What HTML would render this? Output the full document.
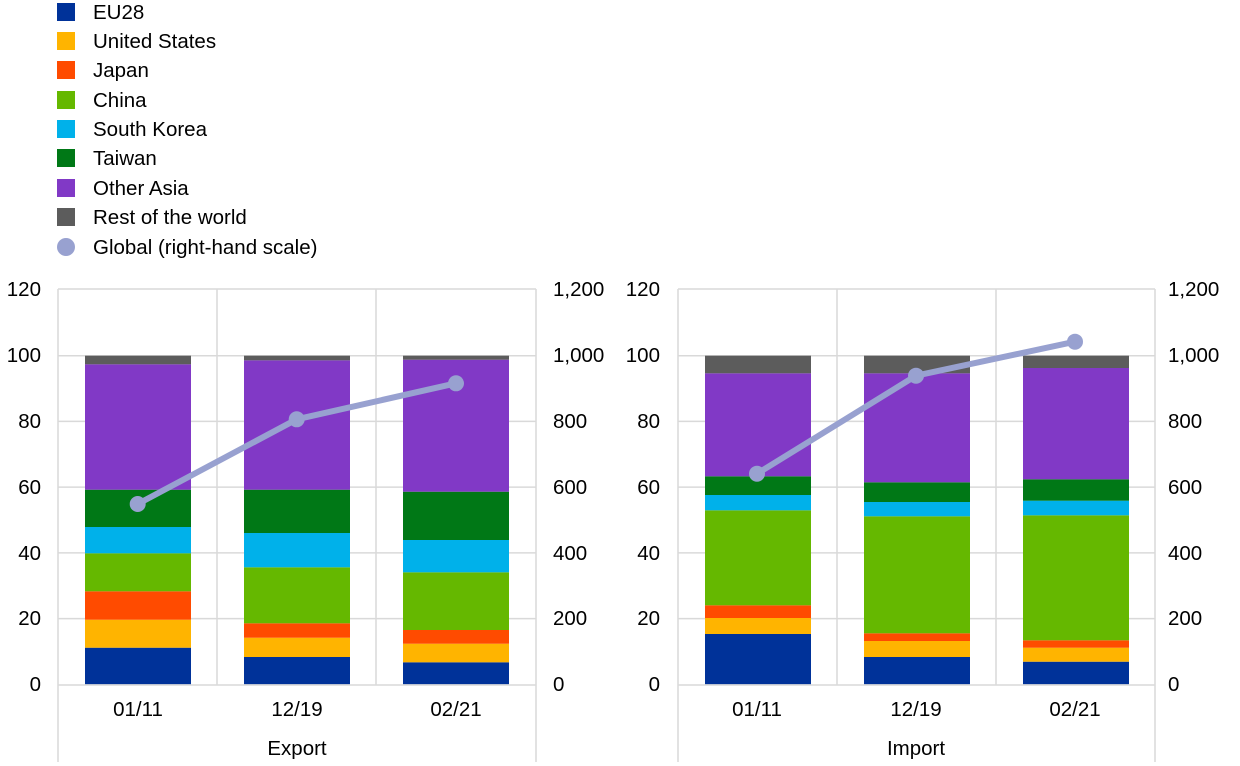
<!DOCTYPE html>
<html><head><meta charset="utf-8"><style>
html,body{margin:0;padding:0;background:#fff;}
svg{display:block;font-family:"Liberation Sans",Arial,sans-serif;}
</style></head><body>
<svg width="1240" height="766" viewBox="0 0 1240 766" xmlns="http://www.w3.org/2000/svg">
<g font-size="20.5" fill="#000">
<rect x="57" y="3" width="18" height="18" fill="#003299"/><text x="93" y="19">EU28</text>
<rect x="57" y="32" width="18" height="18" fill="#FFB400"/><text x="93" y="48">United States</text>
<rect x="57" y="61" width="18" height="18" fill="#FF4B00"/><text x="93" y="77">Japan</text>
<rect x="57" y="91" width="18" height="18" fill="#65B800"/><text x="93" y="107">China</text>
<rect x="57" y="120" width="18" height="18" fill="#00B1EA"/><text x="93" y="136">South Korea</text>
<rect x="57" y="149" width="18" height="18" fill="#007816"/><text x="93" y="165">Taiwan</text>
<rect x="57" y="179" width="18" height="18" fill="#8139C6"/><text x="93" y="195">Other Asia</text>
<rect x="57" y="208" width="18" height="18" fill="#5C5C5C"/><text x="93" y="224">Rest of the world</text>
<circle cx="66" cy="247" r="9" fill="#98A1D0"/><text x="93" y="254">Global (right-hand scale)</text>
</g>

<!-- LEFT CHART -->
<g stroke="#d9d9d9" stroke-width="1.5" fill="none">
<line x1="58" y1="289" x2="536" y2="289"/>
<line x1="58" y1="355.7" x2="536" y2="355.7"/>
<line x1="58" y1="421.4" x2="536" y2="421.4"/>
<line x1="58" y1="487.1" x2="536" y2="487.1"/>
<line x1="58" y1="552.9" x2="536" y2="552.9"/>
<line x1="58" y1="618.6" x2="536" y2="618.6"/>
<line x1="217" y1="289" x2="217" y2="685"/>
<line x1="376" y1="289" x2="376" y2="685"/>
<line x1="58" y1="289" x2="58" y2="762"/>
<line x1="536" y1="289" x2="536" y2="762"/>
</g>
<g>
<rect x="85" y="647.7" width="106" height="36.6" fill="#003299"/>
<rect x="85" y="619.7" width="106" height="28" fill="#FFB400"/>
<rect x="85" y="591.3" width="106" height="28.4" fill="#FF4B00"/>
<rect x="85" y="553.3" width="106" height="38" fill="#65B800"/>
<rect x="85" y="527" width="106" height="26.3" fill="#00B1EA"/>
<rect x="85" y="489.7" width="106" height="37.3" fill="#007816"/>
<rect x="85" y="364.3" width="106" height="125.4" fill="#8139C6"/>
<rect x="85" y="355.7" width="106" height="8.6" fill="#5C5C5C"/>

<rect x="244" y="657" width="106" height="27.3" fill="#003299"/>
<rect x="244" y="637.7" width="106" height="19.3" fill="#FFB400"/>
<rect x="244" y="623.3" width="106" height="14.4" fill="#FF4B00"/>
<rect x="244" y="567.3" width="106" height="56" fill="#65B800"/>
<rect x="244" y="533" width="106" height="34.3" fill="#00B1EA"/>
<rect x="244" y="489.7" width="106" height="43.3" fill="#007816"/>
<rect x="244" y="360.3" width="106" height="129.4" fill="#8139C6"/>
<rect x="244" y="355.7" width="106" height="4.6" fill="#5C5C5C"/>

<rect x="403" y="662.3" width="106" height="22" fill="#003299"/>
<rect x="403" y="643.7" width="106" height="18.6" fill="#FFB400"/>
<rect x="403" y="630" width="106" height="13.7" fill="#FF4B00"/>
<rect x="403" y="572.3" width="106" height="57.7" fill="#65B800"/>
<rect x="403" y="540" width="106" height="32.3" fill="#00B1EA"/>
<rect x="403" y="491.7" width="106" height="48.3" fill="#007816"/>
<rect x="403" y="359.7" width="106" height="132" fill="#8139C6"/>
<rect x="403" y="355.7" width="106" height="4" fill="#5C5C5C"/>
</g>
<line x1="58" y1="685" x2="536" y2="685" stroke="#d9d9d9" stroke-width="1.5"/>
<polyline points="137.7,504 296.7,419.3 456,383.3" fill="none" stroke="#98A1D0" stroke-width="6" stroke-linejoin="round"/>
<g fill="#98A1D0"><circle cx="137.7" cy="504" r="8"/><circle cx="296.7" cy="419.3" r="8"/><circle cx="456" cy="383.3" r="8"/></g>
<g font-size="20.5" fill="#000" text-anchor="end">
<text x="41" y="296">120</text><text x="41" y="362">100</text><text x="41" y="428">80</text>
<text x="41" y="494">60</text><text x="41" y="560">40</text><text x="41" y="625">20</text><text x="41" y="691">0</text>
</g>
<g font-size="20.5" fill="#000">
<text x="553" y="296">1,200</text><text x="553" y="362">1,000</text><text x="553" y="428">800</text>
<text x="553" y="494">600</text><text x="553" y="560">400</text><text x="553" y="625">200</text><text x="553" y="691">0</text>
</g>
<g font-size="20.5" fill="#000" text-anchor="middle">
<text x="138" y="716">01/11</text><text x="297" y="716">12/19</text><text x="456" y="716">02/21</text>
<text x="297" y="755">Export</text>
</g>

<!-- RIGHT CHART -->
<g stroke="#d9d9d9" stroke-width="1.5" fill="none">
<line x1="678" y1="289" x2="1155" y2="289"/>
<line x1="678" y1="355.7" x2="1155" y2="355.7"/>
<line x1="678" y1="421.4" x2="1155" y2="421.4"/>
<line x1="678" y1="487.1" x2="1155" y2="487.1"/>
<line x1="678" y1="552.9" x2="1155" y2="552.9"/>
<line x1="678" y1="618.6" x2="1155" y2="618.6"/>
<line x1="837" y1="289" x2="837" y2="685"/>
<line x1="996" y1="289" x2="996" y2="685"/>
<line x1="678" y1="289" x2="678" y2="762"/>
<line x1="1155" y1="289" x2="1155" y2="762"/>
</g>
<g>
<rect x="705" y="634" width="106" height="50.3" fill="#003299"/>
<rect x="705" y="618" width="106" height="16" fill="#FFB400"/>
<rect x="705" y="605.3" width="106" height="12.7" fill="#FF4B00"/>
<rect x="705" y="510.3" width="106" height="95" fill="#65B800"/>
<rect x="705" y="495" width="106" height="15.3" fill="#00B1EA"/>
<rect x="705" y="476.3" width="106" height="18.7" fill="#007816"/>
<rect x="705" y="373.3" width="106" height="103" fill="#8139C6"/>
<rect x="705" y="355.7" width="106" height="17.6" fill="#5C5C5C"/>

<rect x="864" y="657" width="106" height="27.3" fill="#003299"/>
<rect x="864" y="641" width="106" height="16" fill="#FFB400"/>
<rect x="864" y="633.3" width="106" height="7.7" fill="#FF4B00"/>
<rect x="864" y="516.3" width="106" height="117" fill="#65B800"/>
<rect x="864" y="502" width="106" height="14.3" fill="#00B1EA"/>
<rect x="864" y="482.3" width="106" height="19.7" fill="#007816"/>
<rect x="864" y="373.3" width="106" height="109" fill="#8139C6"/>
<rect x="864" y="355.7" width="106" height="17.6" fill="#5C5C5C"/>

<rect x="1023" y="661.7" width="106" height="22.6" fill="#003299"/>
<rect x="1023" y="647.7" width="106" height="14" fill="#FFB400"/>
<rect x="1023" y="640.3" width="106" height="7.4" fill="#FF4B00"/>
<rect x="1023" y="515.3" width="106" height="125" fill="#65B800"/>
<rect x="1023" y="500.7" width="106" height="14.6" fill="#00B1EA"/>
<rect x="1023" y="479.3" width="106" height="21.4" fill="#007816"/>
<rect x="1023" y="368" width="106" height="111.3" fill="#8139C6"/>
<rect x="1023" y="355.7" width="106" height="12.3" fill="#5C5C5C"/>
</g>
<line x1="678" y1="685" x2="1155" y2="685" stroke="#d9d9d9" stroke-width="1.5"/>
<polyline points="757,473.7 916,375.7 1075,341.7" fill="none" stroke="#98A1D0" stroke-width="6" stroke-linejoin="round"/>
<g fill="#98A1D0"><circle cx="757" cy="473.7" r="8"/><circle cx="916" cy="375.7" r="8"/><circle cx="1075" cy="341.7" r="8"/></g>
<g font-size="20.5" fill="#000" text-anchor="end">
<text x="660" y="296">120</text><text x="660" y="362">100</text><text x="660" y="428">80</text>
<text x="660" y="494">60</text><text x="660" y="560">40</text><text x="660" y="625">20</text><text x="660" y="691">0</text>
</g>
<g font-size="20.5" fill="#000">
<text x="1168" y="296">1,200</text><text x="1168" y="362">1,000</text><text x="1168" y="428">800</text>
<text x="1168" y="494">600</text><text x="1168" y="560">400</text><text x="1168" y="625">200</text><text x="1168" y="691">0</text>
</g>
<g font-size="20.5" fill="#000" text-anchor="middle">
<text x="757" y="716">01/11</text><text x="916" y="716">12/19</text><text x="1075" y="716">02/21</text>
<text x="916" y="755">Import</text>
</g>
</svg>
</body></html>
